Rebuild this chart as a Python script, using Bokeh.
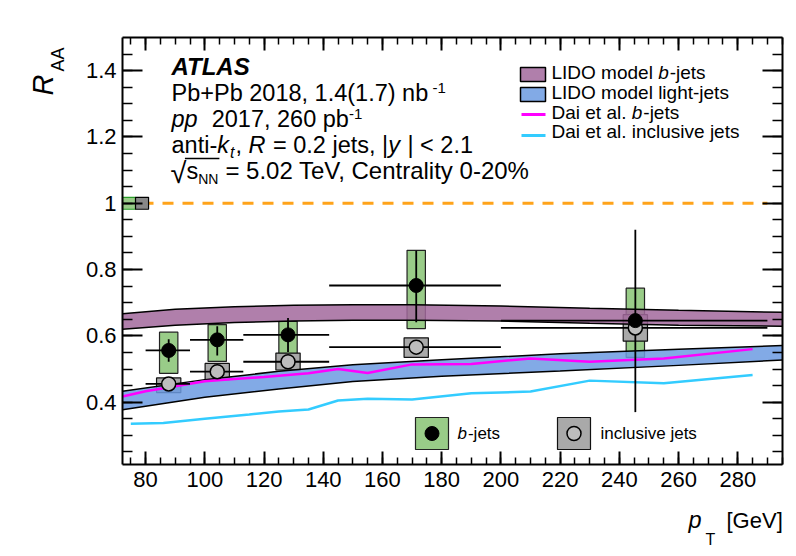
import math
from bokeh.plotting import figure
from bokeh.models import Range1d, LinearAxis, Label, SingleIntervalTicker, CustomJSTickFormatter
from bokeh.embed import file_html
from bokeh.resources import INLINE

# ---------------- data ----------------
pt_lo = [80, 95, 113, 142, 200]
pt_hi = [95, 113, 142, 200, 290]
pt_c = [87.8, 104.2, 128.1, 171.4, 245.4]

b_raa = [0.556, 0.588, 0.603, 0.752, 0.646]
b_stat_lo = [0.522, 0.541, 0.551, 0.641, 0.370]
b_stat_hi = [0.590, 0.629, 0.654, 0.857, 0.920]
b_sys_lo = [0.487, 0.523, 0.546, 0.622, 0.535]
b_sys_hi = [0.611, 0.634, 0.644, 0.858, 0.744]

inc_raa = [0.455, 0.492, 0.522, 0.566, 0.624]
inc_sys_lo = [0.429, 0.467, 0.497, 0.535, 0.584]
inc_sys_hi = [0.473, 0.517, 0.548, 0.594, 0.664]

lido_b_pt = [72.2, 90, 110, 130, 150, 170, 200, 230, 260, 295.1]
lido_b_lo = [0.620, 0.632, 0.640, 0.645, 0.647, 0.647, 0.645, 0.638, 0.632, 0.629]
lido_b_hi = [0.667, 0.680, 0.688, 0.692, 0.694, 0.694, 0.690, 0.683, 0.677, 0.671]

lido_l_pt = [72.2, 100, 125, 150, 180, 220, 260, 295.1]
lido_l_lo = [0.377, 0.415, 0.440, 0.462, 0.478, 0.494, 0.511, 0.527]
lido_l_hi = [0.433, 0.468, 0.493, 0.513, 0.528, 0.546, 0.560, 0.571]

dai_b_pt = [72.2, 80, 90, 100, 110, 120, 135, 145, 155, 170, 190, 210, 230, 255, 285]
dai_b = [0.417, 0.433, 0.448, 0.463, 0.470, 0.476, 0.487, 0.500, 0.488, 0.514, 0.515, 0.532, 0.522, 0.532, 0.560]

dai_inc_pt = [75, 86, 100, 115, 125, 135, 145, 155, 170, 190, 210, 230, 255, 285]
dai_inc = [0.335, 0.337, 0.350, 0.363, 0.372, 0.378, 0.405, 0.410, 0.408, 0.427, 0.432, 0.465, 0.457, 0.482]

unity = 1.0
unity_pt = [72.2, 290]
norm_b = 0.018
norm_inc = 0.018

# ---------------- layout ----------------
FIG_W, FIG_H = 788, 550
FL, FR, FT, FB = 122, 782, 37, 464       # visible plot box in page pixels
X0, X1 = 72.2, 295.1
Y0, Y1 = 0.212, 1.5
FONT = "Liberation Sans"

def px2x(px):
    return X0 + (px - FL) / (FR - FL) * (X1 - X0)

def py2y(py):
    return Y0 + (FB - py) / (FB - FT) * (Y1 - Y0)

p = figure(width=FIG_W, height=FIG_H, title=None,
           x_range=Range1d(px2x(0), px2x(FIG_W)), y_range=Range1d(py2y(FIG_H), py2y(0)),
           output_backend="svg", toolbar_location=None,
           x_axis_location=None, y_axis_location=None, min_border=0)
p.grid.visible = False
p.outline_line_color = None
p.background_fill_color = "white"
p.border_fill_color = "white"

xt = SingleIntervalTicker(interval=20, num_minor_ticks=4)
yt = SingleIntervalTicker(interval=0.2, num_minor_ticks=4)
xf = CustomJSTickFormatter(code="return String(Math.round(tick));")
yf = CustomJSTickFormatter(code="return String(Math.round(tick*10)/10);")

def make_axis(ticker, fmt, loc, bounds, tin, min_in, labels, standoff):
    ax = LinearAxis(ticker=ticker, formatter=fmt if labels else CustomJSTickFormatter(code="return '';"),
                    fixed_location=loc, bounds=bounds)
    ax.axis_line_width = 2
    ax.axis_line_color = "black"
    ax.major_tick_in = tin
    ax.major_tick_out = 0
    ax.minor_tick_in = min_in
    ax.minor_tick_out = 0
    ax.major_tick_line_width = 2
    ax.minor_tick_line_width = 1.5
    ax.major_tick_line_color = "black"
    ax.minor_tick_line_color = "black"
    ax.major_label_text_font = FONT
    ax.major_label_text_font_size = "22px" if labels else "0px"
    ax.major_label_text_color = "black"
    ax.major_label_standoff = standoff
    return ax

p.add_layout(make_axis(xt, xf, Y0, (X0, X1), 13, 7, True, 7), "below")
p.add_layout(make_axis(xt, xf, Y1, (X0, X1), 13, 7, False, 0), "above")
p.add_layout(make_axis(yt, yf, X0, (Y0, Y1), 20, 10, True, 6), "left")
p.add_layout(make_axis(yt, yf, X1, (Y0, Y1), 20, 10, False, 0), "right")

# ---------------- colours ----------------
PURPLE = "#a2689c"
BLUE = "#6c9be2"
GREEN = "#99cc88"
GRAY_BOX = "#a9a9a9"
GRAY_MK = "#bdbdbd"
MAGENTA = "#ff00ff"
CYAN = "#33ccff"
ORANGE = "#ffa31a"

# ---------------- plot ----------------
p.line(unity_pt, [unity, unity], line_color=ORANGE, line_width=3, line_dash="11 9")
p.quad(left=[X0], right=[X0 + 4.4], bottom=[unity - norm_b], top=[unity + norm_b],
       fill_color=GREEN, line_color="#2a9d2a", line_width=1.2)
p.quad(left=[X0 + 4.4], right=[X0 + 8.8], bottom=[unity - norm_inc], top=[unity + norm_inc],
       fill_color="#888888", line_color="black", line_width=1.2)

p.quad(left=[x - 3.1 for x in pt_c], right=[x + 3.1 for x in pt_c], bottom=b_sys_lo, top=b_sys_hi,
       fill_color=GREEN, line_color="#222222", line_width=1.2)
p.quad(left=[x - 4.1 for x in pt_c], right=[x + 4.1 for x in pt_c], bottom=inc_sys_lo, top=inc_sys_hi,
       fill_color=GRAY_BOX, line_color="#111111", line_width=1.2)

p.varea(x=lido_b_pt, y1=lido_b_lo, y2=lido_b_hi, fill_color=PURPLE, fill_alpha=0.85)
p.line(lido_b_pt, lido_b_lo, line_color="black", line_width=1.5)
p.line(lido_b_pt, lido_b_hi, line_color="black", line_width=1.5)
p.varea(x=lido_l_pt, y1=lido_l_lo, y2=lido_l_hi, fill_color=BLUE, fill_alpha=0.85)
p.line(lido_l_pt, lido_l_lo, line_color="black", line_width=1.5)
p.line(lido_l_pt, lido_l_hi, line_color="black", line_width=1.5)

p.line(dai_b_pt, dai_b, line_color=MAGENTA, line_width=2.5)
p.line(dai_inc_pt, dai_inc, line_color=CYAN, line_width=2.5)

p.segment(x0=pt_lo, x1=pt_hi, y0=inc_raa, y1=inc_raa, line_color="black", line_width=1.8)
p.segment(x0=pt_lo, x1=pt_hi, y0=b_raa, y1=b_raa, line_color="black", line_width=1.8)
p.segment(x0=pt_c, x1=pt_c, y0=b_stat_lo, y1=b_stat_hi, line_color="black", line_width=1.8)

p.scatter(pt_c, inc_raa, size=14, fill_color=GRAY_MK, line_color="black", line_width=1.5)
p.scatter(pt_c, b_raa, size=14, fill_color="black", line_color="black")

# ---------------- text helpers ----------------
WID = {' ': 278, '%': 889, '(': 333, ')': 333, '+': 584, ',': 278, '-': 333, '.': 278,
       '<': 584, '=': 584, '[': 278, ']': 278, '|': 260, '\u221a': 549,
       'A': 667, 'C': 722, 'D': 722, 'G': 778, 'I': 278, 'L': 556, 'N': 722, 'O': 778,
       'P': 667, 'R': 722, 'S': 667, 'T': 611, 'V': 667,
       'a': 556, 'b': 556, 'c': 500, 'd': 556, 'e': 556, 'g': 556, 'h': 556, 'i': 222,
       'j': 222, 'k': 500, 'l': 222, 'm': 833, 'n': 556, 'o': 556, 'p': 556, 'r': 333,
       's': 500, 't': 278, 'u': 556, 'v': 500, 'y': 500}

def tw(s, size):
    return sum(WID.get(c, 556) for c in s) * size / 1000.0

def label(x, yc, txt, size, style="normal", angle=0.0):
    p.add_layout(Label(x=px2x(x), y=py2y(yc), text=txt, text_font=FONT, angle=angle,
                       text_font_size=f"{size}px", text_font_style=style,
                       text_baseline="middle", text_align="left", text_color="black"))

def rich(x, center, main, parts):
    """parts: (text, size, style, dy from baseline); leading spaces advance the pen."""
    base = center + 0.35 * main
    cx = x
    for txt, size, style, dy in parts:
        t = txt.lstrip(" ")
        cx += (len(txt) - len(t)) * 278 * size / 1000.0
        label(cx, base + dy - 0.35 * size, t, size, style)
        cx += tw(t, size) + (1 if "italic" in style else 0)
    return cx

N, I = "normal", "italic"
TS = 23.5
label(171, 66, "ATLAS", 24, "bold italic")
rich(171, 92, TS, [("Pb+Pb 2018, 1.4(1.7) nb", TS, N, 0), (" -1", 15, N, -7)])
rich(171, 118, TS, [("pp", TS, I, 0), ("  2017, 260 pb", TS, N, 0), ("-1", 15, N, -7)])
rich(171, 144, TS, [("anti-", TS, N, 0), ("k", TS, I, 0), ("t", 16, I, 5), (", ", TS, N, 0),
                    ("R", TS, I, 0), (" = 0.2 jets, |", TS, N, 0), ("y", TS, I, 0),
                    (" | < 2.1", TS, N, 0)])
ex = rich(170, 170, TS, [("\u221a", 29, N, 4), ("s", TS, N, 0), ("NN", 14, N, 5)])
rich(ex + 7, 170, 24, [("= 5.02 TeV, Centrality 0-20%", 24, N, 0)])
p.segment(x0=[px2x(170 + tw("\u221a", 29) - 1.5)], x1=[px2x(ex + 1)], y0=[py2y(158)], y1=[py2y(158)],
          line_color="black", line_width=1.3)

# top-right legend
LX0, LX1, TX = 520, 545, 551
p.quad(left=[px2x(LX0)], right=[px2x(LX1)], bottom=[py2y(81)], top=[py2y(67)],
       fill_color=PURPLE, fill_alpha=0.85, line_color="black", line_width=1.5)
p.quad(left=[px2x(LX0)], right=[px2x(LX1)], bottom=[py2y(101)], top=[py2y(87)],
       fill_color=BLUE, fill_alpha=0.85, line_color="black", line_width=1.5)
p.segment(x0=[px2x(LX0 + 1)], x1=[px2x(LX1)], y0=[py2y(114)], y1=[py2y(114)],
          line_color=MAGENTA, line_width=3)
p.segment(x0=[px2x(LX0 + 1)], x1=[px2x(LX1)], y0=[py2y(135)], y1=[py2y(135)],
          line_color=CYAN, line_width=3)
rich(TX, 72, 19, [("LIDO model ", 19, N, 0), ("b", 19, I, 0), ("-jets", 19, N, 0)])
rich(TX, 92, 19, [("LIDO model light-jets", 19, N, 0)])
rich(TX, 112, 19, [("Dai et al. ", 19, N, 0), ("b", 19, I, 0), ("-jets", 19, N, 0)])
rich(TX, 131, 19, [("Dai et al. inclusive jets", 19, N, 0)])

# bottom legend
p.quad(left=[px2x(415)], right=[px2x(448)], bottom=[py2y(449)], top=[py2y(417)],
       fill_color=GREEN, line_color="#222222", line_width=1.2)
p.scatter([px2x(431.5)], [py2y(433)], size=14, fill_color="black", line_color="black")
rich(457, 433, 17, [("b", 17, I, 0), ("-jets", 17, N, 0)])
p.quad(left=[px2x(557)], right=[px2x(590)], bottom=[py2y(449)], top=[py2y(417)],
       fill_color=GRAY_BOX, line_color="#111111", line_width=1.2)
p.scatter([px2x(573.5)], [py2y(433)], size=14, fill_color=GRAY_MK, line_color="black", line_width=1.5)
rich(600, 433, 17, [("inclusive jets", 17, N, 0)])

# axis titles
label(42, 95, "R", 29, "italic", angle=math.pi / 2)
label(57, 71, "AA", 18, "normal", angle=math.pi / 2)
label(688, 519, "p", 23.5, "italic")
label(705, 539, "T", 16, "normal")
label(726, 520, "[GeV]", 22, "normal")

open("out.html", "w").write(file_html(p, INLINE))
